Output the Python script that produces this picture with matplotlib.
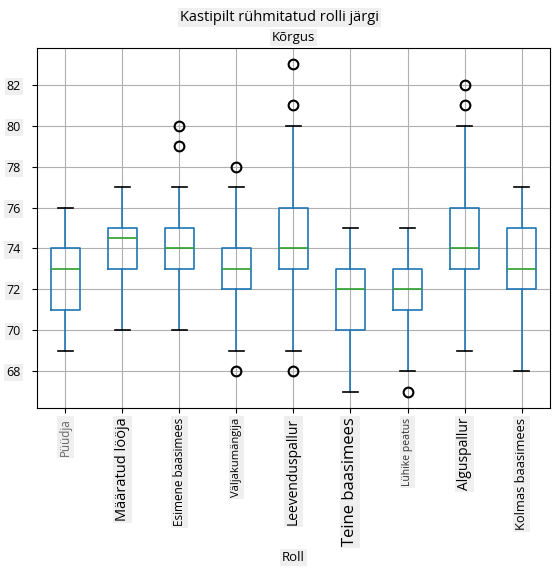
import matplotlib
matplotlib.use("Agg")
import matplotlib.pyplot as plt

plt.rcParams['font.family'] = ['Open Sans', 'DejaVu Sans']

roles = ["Püüdja", "Määratud lööja", "Esimene baasimees", "Väljakumängija",
         "Leevenduspallur", "Teine baasimees", "Lühike peatus", "Alguspallur",
         "Kolmas baasimees"]
whislo = [69, 70, 70, 69, 69, 67, 68, 69, 68]
q1 = [71, 73, 73, 72, 73, 70, 71, 73, 72]
med = [73, 74.5, 74, 73, 74, 72, 72, 74, 73]
q3 = [74, 75, 75, 74, 76, 73, 73, 76, 75]
whishi = [76, 77, 77, 77, 80, 75, 75, 80, 77]
fliers = [[], [], [79, 80], [78, 68], [81, 83, 68], [], [67], [81, 82], []]
label_sizes = [8.5, 10.5, 8.5, 8, 10, 12, 7.5, 10, 9.3]
label_colors = ['#666666', 'black', 'black', 'black', 'black', 'black',
                '#333333', 'black', 'black']

stats = []
for i in range(len(roles)):
    stats.append(dict(label=roles[i], whislo=whislo[i], q1=q1[i], med=med[i],
                      q3=q3[i], whishi=whishi[i], fliers=fliers[i]))

fig = plt.figure(figsize=(5.59, 5.73), dpi=100)
ax = fig.add_axes([0.066, 0.288, 0.918, 0.628])

blue = '#1f77b4'
ax.bxp(stats, widths=0.5,
       boxprops=dict(color=blue, linewidth=1.2),
       whiskerprops=dict(color=blue, linewidth=1.2),
       capprops=dict(color='black', linewidth=1.2),
       medianprops=dict(color='#2ca02c', linewidth=1.2),
       flierprops=dict(marker='o', markerfacecolor='none', markeredgecolor='black',
                       markersize=7, markeredgewidth=1.5))

ax.set_xlim(0.5, 9.5)
ax.set_ylim(66.2, 83.8)
ax.set_yticks([68, 70, 72, 74, 76, 78, 80, 82])
ax.tick_params(axis='y', pad=8)
ax.grid(True, color='#b0b0b0', linewidth=0.8)
ax.set_axisbelow(True)

bg = dict(facecolor='#efefef', edgecolor='none', pad=1.5)
ax.set_xticks(range(1, len(roles) + 1))
ax.set_xticklabels(roles, rotation=90)
for lab, s, c in zip(ax.get_xticklabels(), label_sizes, label_colors):
    lab.set_fontsize(s)
    lab.set_color(c)
    lab.set_bbox(bg)
for lab in ax.get_yticklabels():
    lab.set_fontsize(9)
    lab.set_bbox(bg)

ax.set_title("Kõrgus", fontsize=9.5, bbox=bg, pad=5)
ax.set_xlabel("Roll", fontsize=9.5, bbox=bg, labelpad=3)
fig.suptitle("Kastipilt rühmitatud rolli järgi", fontsize=10.5, y=0.983, bbox=bg)

fig.savefig("out.png", dpi=100)
